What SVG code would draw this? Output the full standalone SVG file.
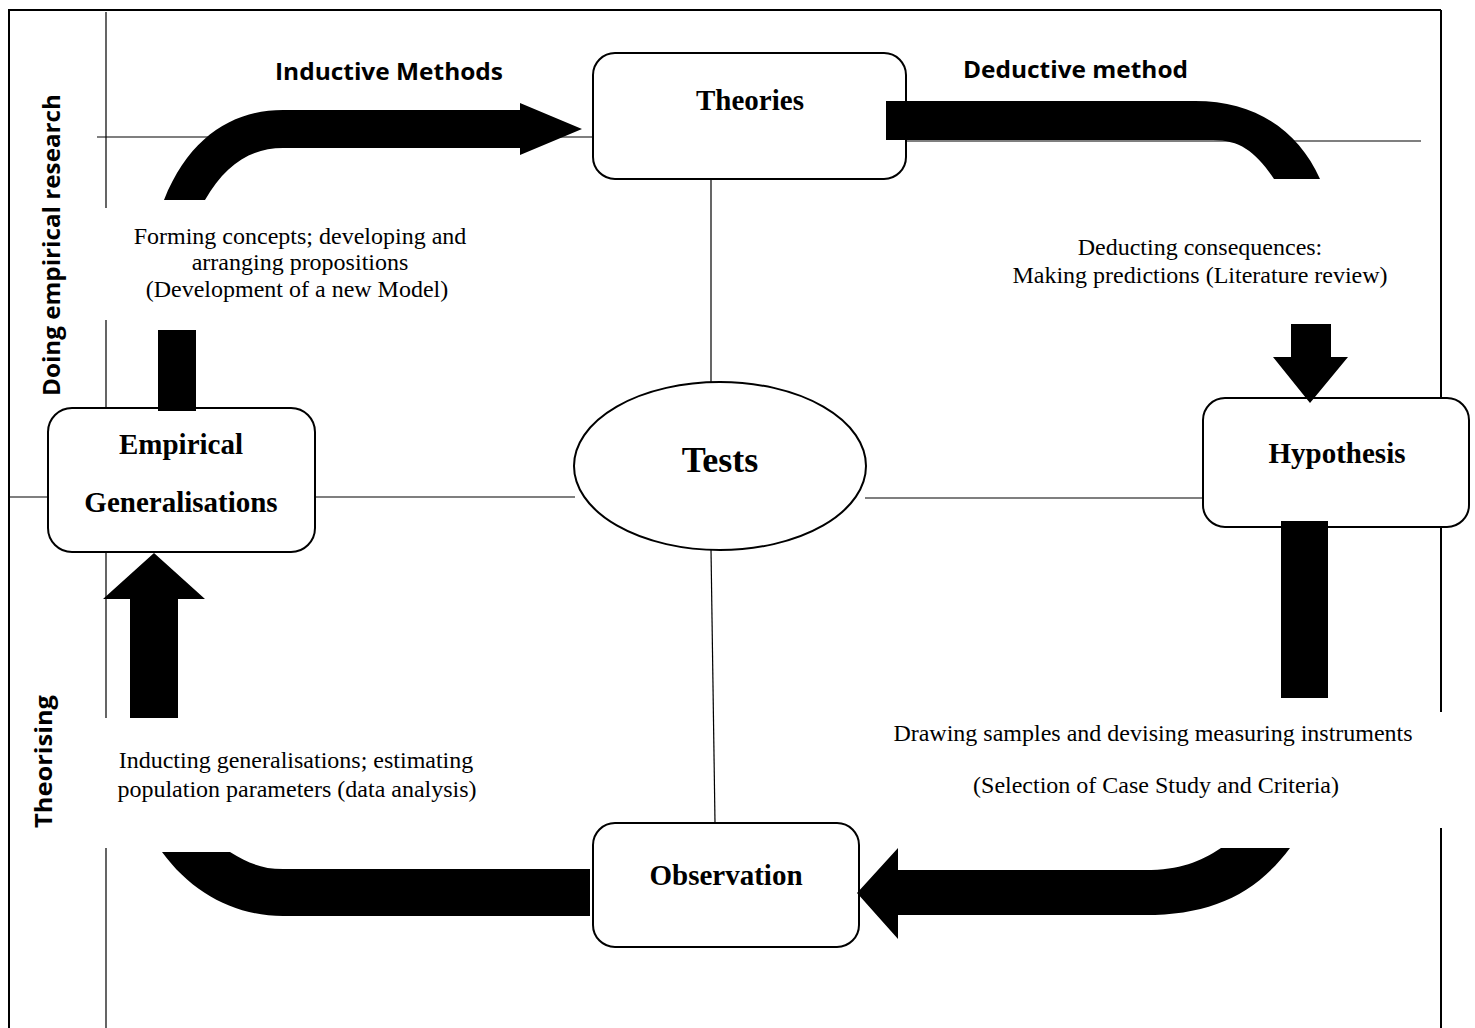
<svg xmlns="http://www.w3.org/2000/svg" width="1475" height="1028" viewBox="0 0 1475 1028">
  <style>
    .frame { fill: none; stroke: #000; stroke-width: 2; }
    .thin { fill: none; stroke: #000; stroke-width: 1.2; }
    .box { fill: #fff; stroke: #000; stroke-width: 2; }
    .band { fill: #000; stroke: none; }
    .node { font-family: "Liberation Serif", "Times New Roman", serif; font-weight: bold; font-size: 29px; text-anchor: middle; fill: #000; }
    .note { font-family: "Liberation Serif", "Times New Roman", serif; font-size: 24px; text-anchor: middle; fill: #000; }
    .head { font-family: "Open Sans", "DejaVu Sans", sans-serif; font-weight: bold; font-size: 24px; fill: #000; }
  </style>
  <rect width="1475" height="1028" fill="#fff"/>

  <!-- page frame -->
  <g id="frame">
    <path class="frame" d="M9,1028 L9,10 L1441,10"/>
    <path class="frame" d="M1441,10 L1441,398 M1441,527 L1441,712 M1441,828 L1441,1028"/>
  </g>

  <!-- axis labels -->
  <g id="axis-labels">
    <text class="head" transform="translate(60,396) rotate(-90)" textLength="302" lengthAdjust="spacingAndGlyphs">Doing empirical research</text>
    <text class="head" transform="translate(52,828) rotate(-90)" textLength="133" lengthAdjust="spacingAndGlyphs">Theorising</text>
  </g>

  <!-- thin guide lines between nodes -->
  <g id="connectors">
    <path class="thin" d="M106,12 L106,208 M106,320 L106,408 M106,552 L106,718 M106,848 L106,1028"/>
    <path class="thin" d="M97,137 L593,137"/>
    <path class="thin" d="M906,141 L1421,141"/>
    <path class="thin" d="M711,180 L711,383"/>
    <path class="thin" d="M9,497 L48,497 M315,497 L575,497"/>
    <path class="thin" d="M865,498 L1203,498"/>
    <path class="thin" d="M711,549 L715,823"/>
  </g>

  <g id="theories">
    <rect class="box" x="593" y="53" width="313" height="126" rx="22"/>
    <text class="node" x="750" y="110">Theories</text>
  </g>

  <g id="tests">
    <ellipse class="box" cx="720" cy="466" rx="146" ry="84"/>
    <text class="node" x="720" y="472" style="font-size:36px">Tests</text>
  </g>

  <g id="empirical-generalisations">
    <rect class="box" x="48" y="408" width="267" height="144" rx="24"/>
    <text class="node" x="181" y="454">Empirical</text>
    <text class="node" x="181" y="512">Generalisations</text>
  </g>

  <g id="hypothesis">
    <rect class="box" x="1203" y="398" width="266" height="129" rx="22"/>
    <text class="node" x="1337" y="463">Hypothesis</text>
  </g>

  <g id="observation">
    <rect class="box" x="593" y="823" width="266" height="124" rx="22"/>
    <text class="node" x="726" y="885">Observation</text>
  </g>

  <!-- block arrows of the research cycle -->
  <g id="cycle-arrows">
    <path class="band" d="M164,200 C190,135 235,110 283,110 L520,110 L520,103 L582,129 L520,155 L520,148 L283,148 C250,148 225,165 205,200 Z"/>
    <path class="band" d="M886,101 L1195,101 C1255,101 1298,130 1320,179 L1274,179 C1256,152 1240,140 1213,140 L886,140 Z"/>
    <path class="band" d="M1291,324 L1331,324 L1331,357 L1348,357 L1310,403 L1273,357 L1291,357 Z"/>
    <rect class="band" x="1281" y="521" width="47" height="177"/>
    <path class="band" d="M857,893 L898,848 L898,870 L1145,870 C1180,870 1200,862 1221,848 L1290,848 C1255,895 1210,915 1145,915 L898,915 L898,939 Z"/>
    <path class="band" d="M590,869 L283,869 C262,869 248,863 230,852 L162,852 C192,893 235,916 283,916 L590,916 Z"/>
    <path class="band" d="M154,553 L205,599 L178,599 L178,718 L130,718 L130,599 L103,599 Z"/>
    <rect class="band" x="158" y="330" width="38" height="81"/>
  </g>

  <!-- method headings -->
  <g id="method-labels">
    <text class="head" x="275" y="80" textLength="228" lengthAdjust="spacingAndGlyphs">Inductive Methods</text>
    <text class="head" x="963" y="78" textLength="225" lengthAdjust="spacingAndGlyphs">Deductive method</text>
  </g>

  <!-- step descriptions -->
  <g id="step-notes">
    <text class="note" x="300" y="244">Forming concepts; developing and</text>
    <text class="note" x="300" y="270">arranging propositions</text>
    <text class="note" x="297" y="297">(Development of a new Model)</text>
    <text class="note" x="1200" y="255">Deducting consequences:</text>
    <text class="note" x="1200" y="283">Making predictions (Literature review)</text>
    <text class="note" x="1153" y="741">Drawing samples and devising measuring instruments</text>
    <text class="note" x="1156" y="793">(Selection of Case Study and Criteria)</text>
    <text class="note" x="296" y="768">Inducting generalisations; estimating</text>
    <text class="note" x="297" y="797">population parameters (data analysis)</text>
  </g>
</svg>
